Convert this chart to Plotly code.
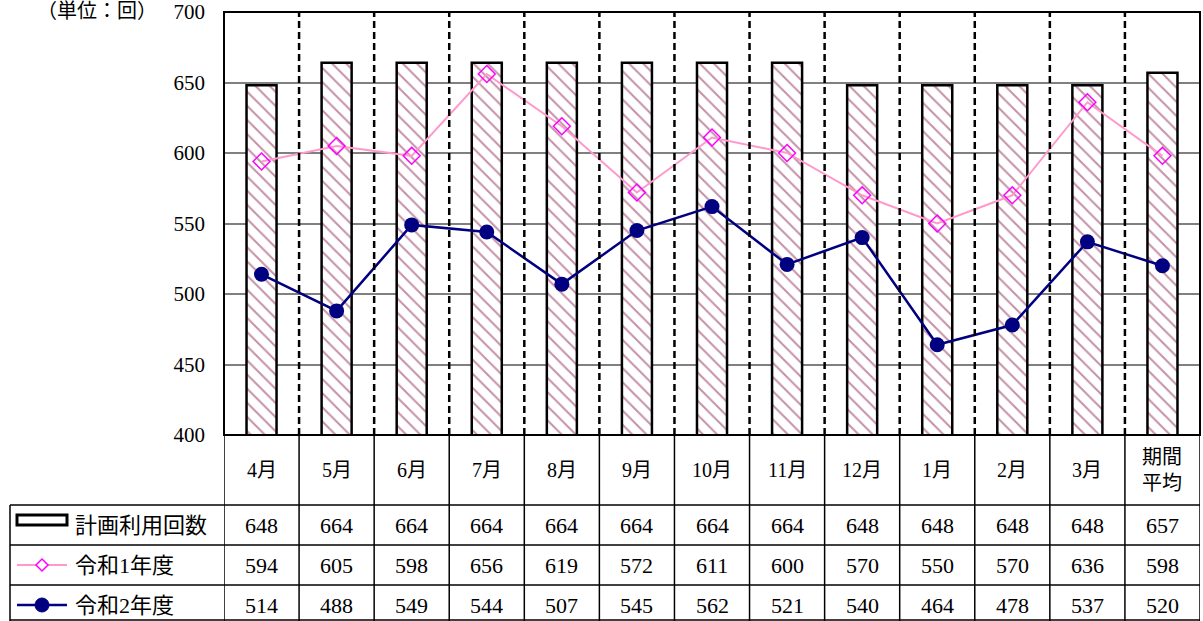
import plotly.graph_objects as go

categories = ["4月", "5月", "6月", "7月", "8月", "9月", "10月", "11月", "12月", "1月", "2月", "3月", "期間<br>平均"]
plan_values = [648, 664, 664, 664, 664, 664, 664, 664, 648, 648, 648, 648, 657]
r1_values = [594, 605, 598, 656, 619, 572, 611, 600, 570, 550, 570, 636, 598]
r2_values = [514, 488, 549, 544, 507, 545, 562, 521, 540, 464, 478, 537, 520]
series_names = ["計画利用回数", "令和1年度", "令和2年度"]
y_ticks = [400, 450, 500, 550, 600, 650, 700]

W, H = 1203, 621
FONT = "'Liberation Serif', 'DejaVu Serif', 'Noto Sans CJK JP', serif"

def px_x(p):
    return p / W

def px_y(p):
    return 1 - p / H

plot_left, plot_right, plot_top, plot_bottom = 224, 1200, 12, 435
xs = list(range(len(categories)))

fig = go.Figure()
fig.add_trace(go.Bar(
    x=xs, y=plan_values, base=0, width=0.4, name=series_names[0],
    marker=dict(color="white", line=dict(color="black", width=2.5),
                pattern=dict(shape="\\", fgcolor="#8b2252", bgcolor="white", size=10, solidity=0.2)),
    showlegend=False,
))
fig.add_trace(go.Scatter(
    x=xs, y=r1_values, mode="lines+markers", name=series_names[1],
    line=dict(color="#ff99cc", width=2),
    marker=dict(symbol="diamond-open", size=13, color="#ff00ff", line=dict(width=1.5, color="#ff00ff")),
    showlegend=False,
))
fig.add_trace(go.Scatter(
    x=xs, y=r2_values, mode="lines+markers", name=series_names[2],
    line=dict(color="#000080", width=2.5),
    marker=dict(symbol="circle", size=15, color="#000080"),
    showlegend=False,
))

shapes = []
for k in range(len(categories) - 1):
    shapes.append(dict(type="line", xref="x", yref="paper", x0=k + 0.5, x1=k + 0.5,
                       y0=px_y(plot_bottom), y1=px_y(plot_top),
                       line=dict(color="black", width=2.5, dash="7px,4px")))
for k in range(len(categories) + 1):
    shapes.append(dict(type="line", xref="x", yref="paper", x0=k - 0.5, x1=k - 0.5,
                       y0=0, y1=px_y(plot_bottom), line=dict(color="black", width=1.5)))
shapes.append(dict(type="line", xref="paper", yref="paper", x0=px_x(10), x1=px_x(10),
                   y0=0, y1=px_y(505), line=dict(color="black", width=1.5)))
for yy in [505, 545, 585, 620]:
    shapes.append(dict(type="line", xref="paper", yref="paper", x0=px_x(10), x1=px_x(plot_right),
                       y0=px_y(yy), y1=px_y(yy), line=dict(color="black", width=1.5)))
shapes.append(dict(type="rect", xref="paper", yref="paper", x0=px_x(plot_left), x1=px_x(plot_right),
                   y0=px_y(plot_bottom), y1=px_y(plot_top), line=dict(color="black", width=2)))

row_y = [525, 565, 605]
shapes.append(dict(type="rect", xref="paper", yref="paper", x0=px_x(17), x1=px_x(67),
                   y0=px_y(525), y1=px_y(515), line=dict(color="black", width=3), fillcolor="white"))
shapes.append(dict(type="line", xref="paper", yref="paper", x0=px_x(17), x1=px_x(67),
                   y0=px_y(row_y[1]), y1=px_y(row_y[1]), line=dict(color="#ff99cc", width=2)))
d = 6
shapes.append(dict(type="path", xref="paper", yref="paper",
                   path=f"M {px_x(42)} {px_y(row_y[1]-d)} L {px_x(42+d)} {px_y(row_y[1])} L {px_x(42)} {px_y(row_y[1]+d)} L {px_x(42-d)} {px_y(row_y[1])} Z",
                   line=dict(color="#ff00ff", width=1.5), fillcolor="white"))
shapes.append(dict(type="line", xref="paper", yref="paper", x0=px_x(17), x1=px_x(67),
                   y0=px_y(row_y[2]), y1=px_y(row_y[2]), line=dict(color="#000080", width=2.5)))
r = 7
shapes.append(dict(type="circle", xref="paper", yref="paper", x0=px_x(42 - r), x1=px_x(42 + r),
                   y0=px_y(row_y[2] + r), y1=px_y(row_y[2] - r), line=dict(color="#000080", width=1),
                   fillcolor="#000080"))

annotations = []
for i, c in enumerate(categories):
    annotations.append(dict(x=i, y=px_y(470), xref="x", yref="paper", text=c, showarrow=False,
                            xanchor="center", yanchor="middle",
                            font=dict(size=20, family=FONT, color="black")))
for vals, ry in zip([plan_values, r1_values, r2_values], row_y):
    for i, v in enumerate(vals):
        annotations.append(dict(x=i, y=px_y(ry), xref="x", yref="paper", text=str(v), showarrow=False,
                                xanchor="center", yanchor="middle",
                                font=dict(size=22, family=FONT, color="black")))
for name, ry in zip(series_names, row_y):
    annotations.append(dict(x=px_x(73), y=px_y(ry), xref="paper", yref="paper", text=name,
                            showarrow=False, xanchor="left", yanchor="middle",
                            font=dict(size=22, family=FONT, color="black")))
annotations.append(dict(x=px_x(97), y=px_y(11), xref="paper", yref="paper", text="（単位：回）",
                        showarrow=False, xanchor="center", yanchor="middle",
                        font=dict(size=20, family=FONT, color="black")))

fig.update_layout(
    width=W, height=H, margin=dict(l=0, r=0, t=0, b=0, autoexpand=False),
    paper_bgcolor="white", plot_bgcolor="white",
    bargap=0.6, shapes=shapes, annotations=annotations,
    font=dict(family=FONT, color="black"),
    xaxis=dict(domain=[px_x(plot_left), px_x(plot_right)], range=[-0.5, len(categories) - 0.5],
               showticklabels=False, showgrid=False, zeroline=False, fixedrange=True, automargin=False),
    yaxis=dict(domain=[px_y(plot_bottom), px_y(plot_top)], range=[400, 700], tickvals=y_ticks,
               showgrid=True, gridcolor="#808080", gridwidth=1.5, zeroline=False, automargin=False,
               tickfont=dict(size=21, family=FONT, color="black"), ticklabelstandoff=18,
               ticks=""),
)

fig.write_html("out.html", config={"displayModeBar": False},
               post_script="document.body.style.margin='0';document.body.style.overflow='hidden';")
